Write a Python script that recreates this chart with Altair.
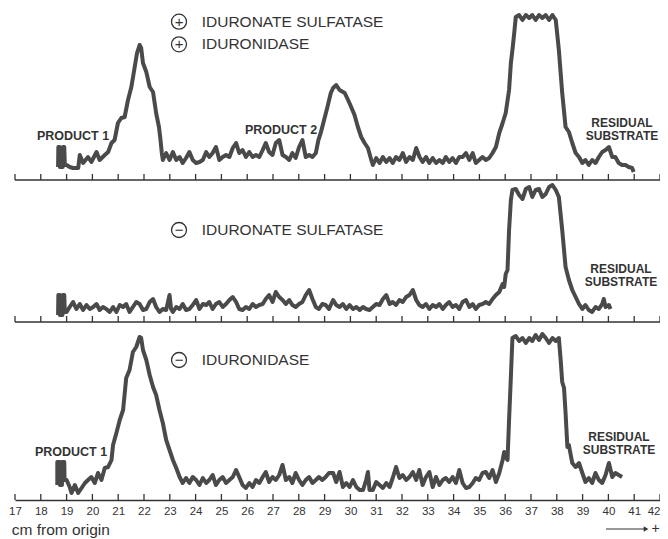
import altair as alt
import pandas as pd

# ---------------- data ----------------
TICKS = list(range(17, 43))

# Panel 1: + iduronate sulfatase, + iduronidase
P1_CM = [
    18.67, 18.68, 18.73, 18.74, 18.85, 18.86, 18.91, 18.93,
    19.00, 19.12, 19.25, 19.45, 19.51, 19.64, 19.83, 19.96, 20.16, 20.28,
    20.48, 20.61, 20.74, 20.86, 20.99, 21.12, 21.25, 21.38, 21.51, 21.64,
    21.73, 21.83, 21.89, 21.96, 22.09, 22.22, 22.35, 22.47, 22.58, 22.64,
    22.69, 22.73, 22.86, 22.99, 23.12, 23.25, 23.38, 23.50, 23.63, 23.76,
    23.89, 24.02, 24.15, 24.28, 24.41, 24.53, 24.66, 24.79, 24.92, 25.05,
    25.18, 25.31, 25.44, 25.57, 25.69, 25.82, 25.95, 26.08, 26.21, 26.34,
    26.47, 26.60, 26.72, 26.85, 26.98, 27.11, 27.24, 27.37, 27.50, 27.63,
    27.75, 27.88, 28.01, 28.14, 28.27, 28.40, 28.53, 28.66, 28.76, 28.85,
    28.98, 29.11, 29.24, 29.33, 29.45, 29.58, 29.78, 29.91, 30.03, 30.16,
    30.29, 30.42, 30.55, 30.68, 30.81, 30.87, 31.00, 31.13, 31.26, 31.39,
    31.52, 31.64, 31.77, 31.90, 32.03, 32.16, 32.29, 32.42, 32.55, 32.68,
    32.80, 32.93, 33.06, 33.19, 33.32, 33.45, 33.58, 33.70, 33.83, 33.96,
    34.09, 34.22, 34.35, 34.48, 34.61, 34.74, 34.86, 34.99, 35.12, 35.25,
    35.38, 35.51, 35.64, 35.77, 35.90, 36.02, 36.15, 36.22, 36.28, 36.35,
    36.41, 36.54, 36.67, 36.80, 36.93, 37.05, 37.18, 37.31, 37.44, 37.57,
    37.70, 37.83, 37.96, 38.08, 38.21, 38.34, 38.47, 38.60, 38.73, 38.86,
    38.99, 39.11, 39.24, 39.37, 39.50, 39.63, 39.76, 39.89, 40.02, 40.15,
    40.27, 40.40, 40.53, 40.66, 40.79, 40.92, 40.98,
]
P1_H = [
    13, 33, 33, 13, 13, 33, 33, 15,
    15, 13, 12, 12, 25, 17, 23, 18, 28, 20,
    25, 28, 37, 40, 57, 62, 63, 80, 93, 113,
    127, 135, 132, 117, 108, 93, 88, 67, 53, 40,
    27, 20, 27, 20, 28, 20, 23, 17, 22, 28,
    20, 17, 18, 20, 28, 23, 27, 33, 20, 23,
    25, 23, 32, 37, 27, 30, 23, 28, 23, 25,
    23, 30, 37, 28, 25, 37, 40, 25, 23, 20,
    27, 22, 33, 40, 23, 25, 23, 27, 40, 47,
    60, 73, 87, 92, 95, 90, 87, 80, 73, 65,
    53, 43, 37, 32, 20, 15, 22, 17, 23, 18,
    22, 17, 23, 20, 27, 18, 23, 20, 32, 23,
    18, 23, 17, 22, 17, 20, 17, 23, 18, 22,
    17, 23, 23, 27, 20, 27, 17, 20, 23, 20,
    22, 27, 33, 47, 57, 67, 90, 117, 130, 147,
    163, 165, 160, 165, 162, 165, 160, 165, 162, 165,
    160, 165, 160, 130, 87, 53, 48, 37, 27, 23,
    17, 20, 15, 20, 17, 23, 28, 30, 33, 23,
    23, 17, 15, 15, 13, 12, 8,
]

# Panel 2: - iduronate sulfatase
P2_CM = [
    18.67, 18.68, 18.73, 18.74, 18.84, 18.85, 18.91, 18.93,
    19.00, 19.12, 19.25, 19.38, 19.51, 19.64, 19.77, 19.90, 20.03, 20.16,
    20.28, 20.41, 20.54, 20.67, 20.80, 20.93, 21.06, 21.19, 21.31, 21.44,
    21.57, 21.70, 21.83, 21.96, 22.09, 22.22, 22.35, 22.47, 22.60, 22.73,
    22.86, 22.99, 23.05, 23.12, 23.25, 23.38, 23.50, 23.63, 23.76, 23.89,
    24.02, 24.15, 24.28, 24.41, 24.53, 24.66, 24.79, 24.92, 25.05, 25.18,
    25.31, 25.44, 25.57, 25.69, 25.82, 25.95, 26.08, 26.21, 26.34, 26.47,
    26.60, 26.72, 26.85, 26.98, 27.11, 27.24, 27.37, 27.50, 27.63, 27.75,
    27.88, 28.01, 28.14, 28.27, 28.40, 28.53, 28.66, 28.78, 28.91, 29.04,
    29.17, 29.33, 29.45, 29.58, 29.71, 29.84, 29.97, 30.10, 30.23, 30.36,
    30.49, 30.61, 30.74, 30.87, 31.00, 31.13, 31.26, 31.39, 31.52, 31.64,
    31.77, 31.90, 32.03, 32.16, 32.29, 32.42, 32.55, 32.67, 32.80, 32.93,
    33.06, 33.19, 33.32, 33.45, 33.58, 33.70, 33.83, 33.96, 34.09, 34.22,
    34.35, 34.48, 34.61, 34.74, 34.86, 34.99, 35.12, 35.25, 35.38, 35.51,
    35.64, 35.77, 35.90, 35.96, 36.02, 36.09, 36.15, 36.22, 36.28, 36.41,
    36.54, 36.67, 36.80, 36.93, 37.05, 37.18, 37.31, 37.44, 37.57, 37.70,
    37.83, 37.96, 38.08, 38.21, 38.34, 38.47, 38.60, 38.73, 38.86, 38.99,
    39.11, 39.24, 39.37, 39.50, 39.63, 39.76, 39.82, 39.89, 40.02, 40.08,
]
P2_H = [
    7, 27, 27, 7, 7, 27, 27, 10,
    10, 15, 20, 13, 18, 12, 17, 13, 15, 18,
    12, 15, 13, 10, 15, 10, 17, 15, 18, 10,
    15, 20, 18, 12, 13, 20, 23, 15, 10, 13,
    12, 27, 13, 10, 15, 13, 18, 12, 13, 17,
    22, 13, 18, 17, 20, 13, 18, 20, 15, 18,
    22, 25, 20, 13, 12, 15, 13, 18, 15, 17,
    18, 23, 27, 20, 30, 25, 22, 18, 22, 17,
    15, 18, 20, 27, 32, 23, 15, 13, 18, 17,
    13, 22, 17, 15, 18, 13, 17, 13, 15, 12,
    15, 13, 12, 15, 18, 17, 23, 27, 18, 20,
    17, 22, 20, 25, 27, 32, 22, 17, 15, 18,
    13, 17, 15, 18, 13, 17, 20, 15, 17, 13,
    20, 22, 15, 18, 13, 17, 18, 20, 18, 23,
    27, 30, 38, 35, 48, 52, 92, 122, 132, 133,
    127, 123, 133, 135, 125, 132, 133, 125, 128, 135,
    137, 132, 125, 92, 55, 42, 32, 25, 18, 13,
    17, 12, 10, 15, 13, 18, 23, 15, 17, 13,
]

# Panel 3: - iduronidase
P3_CM = [
    18.64, 18.64, 18.74, 18.74, 18.82, 18.82, 18.91, 18.92,
    19.00, 19.12, 19.19, 19.32, 19.45, 19.58, 19.71, 19.83, 19.96, 20.09,
    20.22, 20.35, 20.48, 20.61, 20.74, 20.80, 20.93, 21.06, 21.19, 21.31,
    21.44, 21.57, 21.70, 21.83, 21.89, 21.96, 22.09, 22.22, 22.35, 22.47,
    22.60, 22.73, 22.86, 22.99, 23.12, 23.25, 23.38, 23.50, 23.63, 23.76,
    23.89, 24.02, 24.15, 24.28, 24.41, 24.53, 24.66, 24.79, 24.92, 25.05,
    25.18, 25.31, 25.44, 25.57, 25.69, 25.82, 25.95, 26.08, 26.21, 26.34,
    26.47, 26.60, 26.72, 26.85, 26.98, 27.11, 27.24, 27.37, 27.50, 27.63,
    27.75, 27.88, 28.01, 28.14, 28.27, 28.40, 28.53, 28.66, 28.78, 28.91,
    29.04, 29.17, 29.33, 29.45, 29.58, 29.71, 29.84, 29.97, 30.10, 30.23,
    30.36, 30.49, 30.61, 30.68, 30.74, 30.87, 31.00, 31.13, 31.26, 31.39,
    31.52, 31.64, 31.77, 31.90, 32.03, 32.16, 32.29, 32.42, 32.55, 32.67,
    32.80, 32.93, 33.06, 33.19, 33.32, 33.45, 33.58, 33.70, 33.83, 33.96,
    34.09, 34.22, 34.35, 34.48, 34.61, 34.74, 34.86, 34.99, 35.12, 35.25,
    35.38, 35.51, 35.64, 35.77, 35.90, 35.96, 36.02, 36.09, 36.15, 36.22,
    36.28, 36.41, 36.54, 36.67, 36.80, 36.93, 37.05, 37.18, 37.31, 37.44,
    37.57, 37.70, 37.83, 37.96, 38.08, 38.15, 38.21, 38.28, 38.34, 38.41,
    38.47, 38.54, 38.60, 38.73, 38.86, 38.99, 39.11, 39.24, 39.37, 39.50,
    39.63, 39.76, 39.89, 40.02, 40.15, 40.27, 40.40, 40.53,
]
P3_H = [
    15, 38, 38, 15, 15, 38, 38, 20,
    20, 13, 7, 15, 7, 12, 17, 20, 23, 17,
    27, 20, 32, 33, 40, 55, 67, 80, 90, 122,
    130, 148, 153, 163, 162, 150, 140, 125, 113, 105,
    90, 77, 60, 50, 40, 32, 23, 17, 22, 17,
    23, 20, 15, 22, 17, 20, 25, 15, 20, 23,
    17, 20, 23, 30, 23, 15, 12, 17, 13, 20,
    17, 23, 28, 18, 23, 20, 25, 35, 20, 23,
    17, 27, 20, 15, 20, 23, 17, 20, 23, 20,
    23, 27, 27, 18, 28, 13, 17, 13, 20, 13,
    10, 10, 20, 28, 10, 10, 18, 15, 12, 17,
    13, 22, 33, 22, 25, 20, 23, 28, 20, 30,
    15, 23, 28, 13, 23, 15, 20, 22, 18, 23,
    17, 30, 17, 12, 13, 17, 22, 20, 27, 28,
    22, 30, 18, 27, 40, 48, 43, 40, 80, 123,
    162, 164, 159, 162, 157, 162, 159, 165, 160, 166,
    162, 157, 162, 159, 162, 140, 118, 112, 87, 53,
    55, 45, 37, 33, 37, 27, 18, 22, 17, 27,
    20, 17, 25, 37, 23, 27, 25, 23,
]

# ---------------- styling / layout ----------------
INK = "#333333"
TRACE = "#4a4a4a"
FONT = "Liberation Sans"
XDOM = [17, 42]
W, H = 645, 491
# baseline of each stacked trace, in the shared vertical units (1 unit = 1 px)
BASE1, BASE2, BASE3 = 320, 178, 0

XS = alt.Scale(domain=XDOM, nice=False, zero=False)
YS = alt.Scale(domain=[0, H], nice=False, zero=True)
XAX = alt.Axis(values=TICKS, format="d", ticks=False, labelPadding=5,
               labelFontSize=11.5, labelFont=FONT, labelColor=INK,
               labelOverlap=False, labelFlush=False,
               labelAlign={"condition": {"test": f"datum.value == {XDOM[1]}",
                                         "value": "right"},
                           "value": "center"},
               domainColor=INK, domainWidth=1.5, grid=False, title=None)


def one():
    return pd.DataFrame({"k": [0]})


def trace(cm, h, base):
    df = pd.DataFrame({"cm": cm, "h": h, "i": list(range(len(cm)))})
    return alt.Chart(df).transform_calculate(
        yy=f"datum.h + {base}"
    ).mark_line(
        color=TRACE, strokeWidth=4, strokeJoin="round", strokeCap="butt"
    ).encode(
        x=alt.X("cm:Q", scale=XS, axis=XAX),
        y=alt.Y("yy:Q", scale=YS, axis=None),
        order="i:Q",
    )


def ticks(base):
    return alt.Chart(pd.DataFrame({"cm": TICKS})).transform_calculate(
        y0=f"{base}", y1=f"{base} + 6"
    ).mark_rule(color=INK, strokeWidth=1.3).encode(
        x=alt.X("cm:Q", scale=XS, axis=XAX),
        y=alt.Y("y0:Q", scale=YS, axis=None),
        y2="y1:Q",
    )


def baseline(base):
    return alt.Chart(pd.DataFrame({"cm": XDOM})).transform_calculate(
        yy=f"{base}"
    ).mark_line(color=INK, strokeWidth=1.5).encode(
        x=alt.X("cm:Q", scale=XS, axis=XAX),
        y=alt.Y("yy:Q", scale=YS, axis=None),
    )


def label(px, py, s, size=12, bold=True, align="center"):
    return alt.Chart(one()).mark_text(
        text=s, font=FONT, fontSize=size, fontWeight="bold" if bold else "normal",
        color=INK, align=align, baseline="middle"
    ).encode(x=alt.value(px), y=alt.value(py))


def enzyme(px, py, sign, s):
    circ = alt.Chart(one()).mark_point(
        shape="circle", filled=False, size=225, strokeWidth=1.3, color=INK, opacity=1
    ).encode(x=alt.value(px), y=alt.value(py))
    sg = alt.Chart(one()).mark_text(
        text=sign, font=FONT, fontSize=15, color=INK, align="center", baseline="middle"
    ).encode(x=alt.value(px), y=alt.value(py))
    txt = label(px + 22.7, py, s, size=15.5, bold=False, align="left")
    return [circ, sg, txt]


arrow = alt.Chart(one()).mark_rule(color=INK, strokeWidth=1).encode(
    x=alt.value(591), x2=alt.value(629), y=alt.value(520))
head = alt.Chart(one()).mark_point(
    shape="triangle-right", filled=True, size=28, color=INK, opacity=1
).encode(x=alt.value(631), y=alt.value(520))

layers = [
    trace(P3_CM, P3_H, BASE3),
    ticks(BASE3),
    baseline(BASE1), ticks(BASE1), trace(P1_CM, P1_H, BASE1),
    baseline(BASE2), ticks(BASE2), trace(P2_CM, P2_H, BASE2),
]
layers += enzyme(164, 12.7, "+", "IDURONATE SULFATASE")
layers += enzyme(164, 35.3, "+", "IDURONIDASE")
layers += [label(58, 126.7, "PRODUCT 1", 12.5),
           label(266, 121.3, "PRODUCT 2", 12.5),
           label(607, 113.5, "RESIDUAL", 12),
           label(607, 126.8, "SUBSTRATE", 12)]
layers += enzyme(164, 221, "\u2212", "IDURONATE SULFATASE")
layers += [label(606, 259.5, "RESIDUAL", 12),
           label(606, 273, "SUBSTRATE", 12)]
layers += enzyme(164, 351, "\u2212", "IDURONIDASE")
layers += [label(56, 442.7, "PRODUCT 1", 12.5),
           label(604, 427.5, "RESIDUAL", 12),
           label(604, 440.5, "SUBSTRATE", 12),
           label(-3.3, 520.5, "cm from origin", 15.5, bold=False, align="left"),
           arrow, head,
           label(640.5, 519.5, "+", 14, bold=False)]

chart = alt.layer(*layers).properties(
    width=W, height=H,
    autosize=alt.AutoSizeParams(type="none"),
    padding={"left": 7, "right": 0, "top": 1, "bottom": 39},
    background="white",
).configure_view(stroke=None)

chart.save("out.html", embed_options={"renderer": "svg", "actions": False})
